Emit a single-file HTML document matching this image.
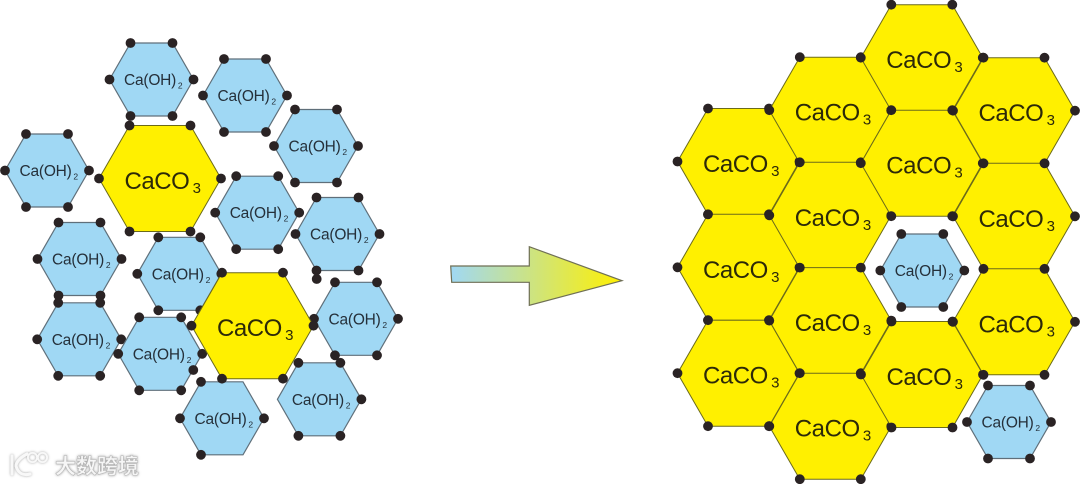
<!DOCTYPE html>
<html>
<head>
<meta charset="utf-8">
<style>
html,body{margin:0;padding:0;background:#fff;}
svg{display:block;}
.bt{font-family:"Liberation Sans",sans-serif;font-size:15.5px;letter-spacing:-.22px;fill:#25303a;}
.yt{font-family:"Liberation Sans",sans-serif;font-size:24px;letter-spacing:-.45px;fill:#2c2909;}
.bt tspan,.yt tspan{letter-spacing:0;}
.wm{font-family:"Liberation Sans","Noto Sans CJK SC",sans-serif;font-size:21px;font-weight:700;fill:#f6f6f6;stroke:#b5b5b5;stroke-width:.5px;filter:url(#sh);}
</style>
</head>
<body>
<svg width="1080" height="484" viewBox="0 0 1080 484" xmlns="http://www.w3.org/2000/svg">
<defs>
<linearGradient id="ar" x1="0" y1="0" x2="1" y2="0">
<stop offset="0" stop-color="#a0d8f4"/>
<stop offset="1" stop-color="#fff000"/>
</linearGradient>
<filter id="sh" x="-20%" y="-30%" width="140%" height="160%">
<feDropShadow dx="0" dy="0" stdDeviation="1.2" flood-color="#888" flood-opacity=".8"/>
</filter>
<circle id="d" r="4.9" fill="#2a2324"/>
<polygon id="bp" points="-42,0 -21,-36.5 21,-36.5 42,0 21,36.5 -21,36.5" fill="#a0d8f4" stroke="#5f6f7a" stroke-width="1.2"/>
<polygon id="yp" points="-61,0 -30.5,-53 30.5,-53 61,0 30.5,53 -30.5,53" fill="#fff000" stroke="#6b6a1a" stroke-width="1"/>
<g id="B">
<use href="#bp"/>
<use href="#d" x="-42"/><use href="#d" x="-21" y="-36.5"/><use href="#d" x="21" y="-36.5"/>
<use href="#d" x="42"/><use href="#d" x="21" y="36.5"/><use href="#d" x="-21" y="36.5"/>
</g>
<g id="Y">
<use href="#yp"/>
<use href="#d" x="-61"/><use href="#d" x="-30.5" y="-53"/><use href="#d" x="30.5" y="-53"/>
<use href="#d" x="61"/><use href="#d" x="30.5" y="53"/><use href="#d" x="-30.5" y="53"/>
</g>
</defs>

<!-- left blue -->
<g transform="translate(151.5,79.5)"><use href="#B"/><text class="bt" x="-27.5" y="5.5">Ca(OH)<tspan font-size="8.5" dx="1.8" dy="3.5">2</tspan></text></g>
<g transform="translate(245,95.5)"><use href="#B"/><text class="bt" x="-27.5" y="5.5">Ca(OH)<tspan font-size="8.5" dx="1.8" dy="3.5">2</tspan></text></g>
<g transform="translate(316,146)"><use href="#B"/><text class="bt" x="-27.5" y="5.5">Ca(OH)<tspan font-size="8.5" dx="1.8" dy="3.5">2</tspan></text></g>
<g transform="translate(47,170.5)"><use href="#B"/><text class="bt" x="-27.5" y="5.5">Ca(OH)<tspan font-size="8.5" dx="1.8" dy="3.5">2</tspan></text></g>
<g transform="translate(257.2,212.7)"><use href="#B"/><text class="bt" x="-27.5" y="5.5">Ca(OH)<tspan font-size="8.5" dx="1.8" dy="3.5">2</tspan></text></g>
<g transform="translate(337.5,234)"><use href="#B"/><text class="bt" x="-27.5" y="5.5">Ca(OH)<tspan font-size="8.5" dx="1.8" dy="3.5">2</tspan></text></g>
<g transform="translate(79.5,259)"><use href="#B"/><text class="bt" x="-27.5" y="5.5">Ca(OH)<tspan font-size="8.5" dx="1.8" dy="3.5">2</tspan></text></g>
<g transform="translate(179.3,273.8)"><use href="#B"/><text class="bt" x="-27.5" y="5.5">Ca(OH)<tspan font-size="8.5" dx="1.8" dy="3.5">2</tspan></text></g>
<g transform="translate(79.2,339.3)"><use href="#B"/><text class="bt" x="-27.5" y="5.5">Ca(OH)<tspan font-size="8.5" dx="1.8" dy="3.5">2</tspan></text></g>
<g transform="translate(160.2,353.8)"><use href="#B"/><text class="bt" x="-27.5" y="5.5">Ca(OH)<tspan font-size="8.5" dx="1.8" dy="3.5">2</tspan></text></g>
<g transform="translate(356,318.8)"><use href="#B"/><text class="bt" x="-27.5" y="5.5">Ca(OH)<tspan font-size="8.5" dx="1.8" dy="3.5">2</tspan></text></g>
<g transform="translate(319.4,399.3)"><use href="#bp"/>
<use href="#d" x="-21" y="-36.5"/><use href="#d" x="21" y="-36.5"/><use href="#d" x="42"/><use href="#d" x="21" y="36.5"/><use href="#d" x="-21" y="36.5"/>
<text class="bt" x="-27.5" y="5.5">Ca(OH)<tspan font-size="8.5" dx="1.8" dy="3.5">2</tspan></text></g>
<g transform="translate(222,418.3)"><use href="#bp"/>
<use href="#d" x="-42"/><use href="#d" x="-21" y="-36.5"/><use href="#d" x="42"/><use href="#d" x="-21" y="36.5"/>
<text class="bt" x="-27.5" y="5.5">Ca(OH)<tspan font-size="8.5" dx="1.8" dy="3.5">2</tspan></text></g>
<use href="#d" x="316.7" y="279"/>
<use href="#d" x="193.3" y="370"/>

<!-- left yellow -->
<g transform="translate(160,178.5)"><use href="#Y"/><text class="yt" x="-35.5" y="10.5">CaCO<tspan font-size="15" dx="3.2" dy="4">3</tspan></text></g>
<g transform="translate(252.5,325.7)"><use href="#Y"/><text class="yt" x="-35.5" y="10.5">CaCO<tspan font-size="15" dx="3.2" dy="4">3</tspan></text></g>

<!-- arrow -->
<polygon points="450.7,266 529.3,266 529.3,246.7 622,280.7 529.3,305.3 529.3,282.3 451.7,282.3" fill="url(#ar)" stroke="#6f6f55" stroke-width="1.2"/>

<!-- right yellow -->
<g transform="translate(738.5,161.5)"><use href="#Y"/><text class="yt" x="-35.5" y="10.5">CaCO<tspan font-size="15" dx="3.2" dy="4">3</tspan></text></g>
<g transform="translate(738.5,267.3)"><use href="#Y"/><text class="yt" x="-35.5" y="10.5">CaCO<tspan font-size="15" dx="3.2" dy="4">3</tspan></text></g>
<g transform="translate(738.5,373.2)"><use href="#Y"/><text class="yt" x="-35.5" y="10.5">CaCO<tspan font-size="15" dx="3.2" dy="4">3</tspan></text></g>
<g transform="translate(830.3,110.2)"><use href="#Y"/><text class="yt" x="-35.5" y="10.5">CaCO<tspan font-size="15" dx="3.2" dy="4">3</tspan></text></g>
<g transform="translate(830.3,215.3)"><use href="#Y"/><text class="yt" x="-35.5" y="10.5">CaCO<tspan font-size="15" dx="3.2" dy="4">3</tspan></text></g>
<g transform="translate(830.3,320.6)"><use href="#Y"/><text class="yt" x="-35.5" y="10.5">CaCO<tspan font-size="15" dx="3.2" dy="4">3</tspan></text></g>
<g transform="translate(830.3,426.2)"><use href="#Y"/><text class="yt" x="-35.5" y="10.5">CaCO<tspan font-size="15" dx="3.2" dy="4">3</tspan></text></g>
<g transform="translate(921.8,57.7)"><use href="#Y"/><text class="yt" x="-35.5" y="10.5">CaCO<tspan font-size="15" dx="3.2" dy="4">3</tspan></text></g>
<g transform="translate(921.8,163.2)"><use href="#Y"/><text class="yt" x="-35.5" y="10.5">CaCO<tspan font-size="15" dx="3.2" dy="4">3</tspan></text></g>
<g transform="translate(922,374.5)"><use href="#Y"/><text class="yt" x="-35.5" y="10.5">CaCO<tspan font-size="15" dx="3.2" dy="4">3</tspan></text></g>
<g transform="translate(1014,110.7)"><use href="#Y"/><text class="yt" x="-35.5" y="10.5">CaCO<tspan font-size="15" dx="3.2" dy="4">3</tspan></text></g>
<g transform="translate(1014,216.3)"><use href="#Y"/><text class="yt" x="-35.5" y="10.5">CaCO<tspan font-size="15" dx="3.2" dy="4">3</tspan></text></g>
<g transform="translate(1014,321.8)"><use href="#Y"/><text class="yt" x="-35.5" y="10.5">CaCO<tspan font-size="15" dx="3.2" dy="4">3</tspan></text></g>

<!-- right blue -->
<g transform="translate(922.3,270.5)"><use href="#B"/><text class="bt" x="-27.5" y="5.5">Ca(OH)<tspan font-size="8.5" dx="1.8" dy="3.5">2</tspan></text></g>
<g transform="translate(1009,422)"><use href="#B"/><text class="bt" x="-27.5" y="5.5">Ca(OH)<tspan font-size="8.5" dx="1.8" dy="3.5">2</tspan></text></g>

<!-- watermark -->
<g filter="url(#sh)" fill="none" stroke="#f8f8f8" stroke-width="3" stroke-linecap="round">
<path d="M12,456 V474"/>
<path d="M27,454 C19,458 16,463 16,466 C18,473 23,476 30,474"/>
<circle cx="32.5" cy="457.5" r="4.6" stroke-width="1.8"/>
<circle cx="42.5" cy="457.5" r="4.6" stroke-width="1.8"/>
</g>
<text class="wm" x="55" y="473.5">大数跨境</text>
</svg>
</body>
</html>
